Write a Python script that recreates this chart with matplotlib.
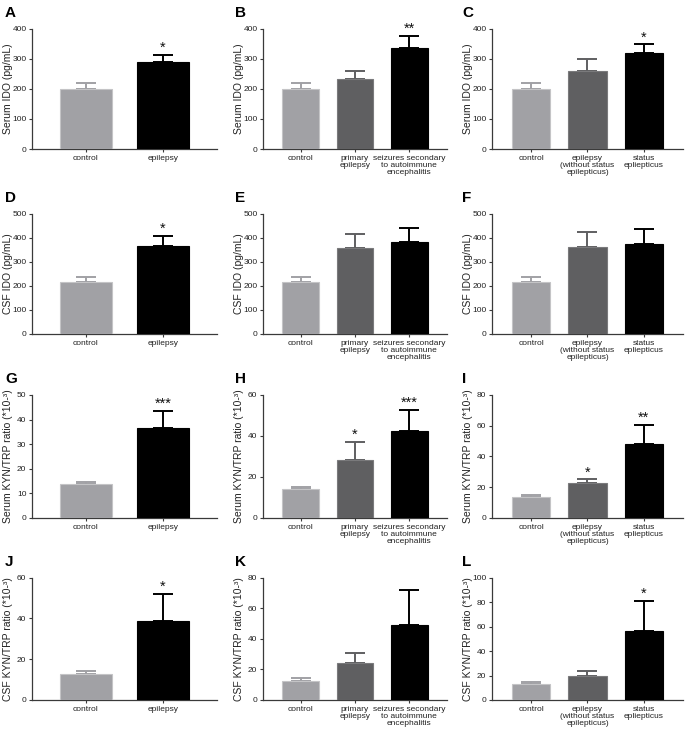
import matplotlib
matplotlib.use("Agg")
import matplotlib.pyplot as plt

plt.rcParams['font.family'] = ['Liberation Sans', 'DejaVu Sans']

# ---- data ----
cats2 = ["control", "epilepsy"]
cats_b = ["control", "primary\nepilepsy", "seizures secondary\nto autoimmune\nencephalitis"]
cats_c = ["control", "epilepsy\n(without status\nepilepticus)", "status\nepliepticus"]

ser_ido_a = [200, 288];      ser_ido_a_err = [19, 26]
ser_ido_b = [200, 233, 336]; ser_ido_b_err = [19, 25, 40]
ser_ido_c = [200, 259, 318]; ser_ido_c_err = [19, 39, 30]

csf_ido_d = [215, 367];      csf_ido_d_err = [21, 42]
csf_ido_e = [215, 356, 381]; csf_ido_e_err = [21, 60, 58]
csf_ido_f = [215, 363, 375]; csf_ido_f_err = [21, 61, 60]

ser_kt_g = [13.7, 36.4];       ser_kt_g_err = [1.0, 7.0]
ser_kt_h = [13.9, 28.2, 42.4]; ser_kt_h_err = [1.0, 9.0, 10.4]
ser_kt_i = [13.8, 22.9, 48.2]; ser_kt_i_err = [0.9, 2.1, 12.3]

csf_kt_j = [12.6, 38.6];       csf_kt_j_err = [1.8, 13.5]
csf_kt_k = [12.5, 24.1, 48.8]; csf_kt_k_err = [1.8, 6.6, 23.3]
csf_kt_l = [13.1, 19.6, 56.2]; csf_kt_l_err = [1.9, 4.4, 24.8]

stars_a = ["", "*"];  stars_b = ["", "", "**"];   stars_c = ["", "", "*"]
stars_d = ["", "*"];  stars_e = ["", "", ""];     stars_f = ["", "", ""]
stars_g = ["", "***"]; stars_h = ["", "*", "***"]; stars_i = ["", "*", "**"]
stars_j = ["", "*"];  stars_k = ["", "", ""];     stars_l = ["", "", "*"]

ylab_sido = "Serum IDO (pg/mL)"
ylab_cido = "CSF IDO (pg/mL)"
ylab_skt = "Serum KYN/TRP ratio (*10-\u00b3)"
ylab_ckt = "CSF KYN/TRP ratio (*10-\u00b3)"

panels = [
    ("A", cats2, ser_ido_a, ser_ido_a_err, stars_a, ylab_sido, 400, 100),
    ("B", cats_b, ser_ido_b, ser_ido_b_err, stars_b, ylab_sido, 400, 100),
    ("C", cats_c, ser_ido_c, ser_ido_c_err, stars_c, ylab_sido, 400, 100),
    ("D", cats2, csf_ido_d, csf_ido_d_err, stars_d, ylab_cido, 500, 100),
    ("E", cats_b, csf_ido_e, csf_ido_e_err, stars_e, ylab_cido, 500, 100),
    ("F", cats_c, csf_ido_f, csf_ido_f_err, stars_f, ylab_cido, 500, 100),
    ("G", cats2, ser_kt_g, ser_kt_g_err, stars_g, ylab_skt, 50, 10),
    ("H", cats_b, ser_kt_h, ser_kt_h_err, stars_h, ylab_skt, 60, 20),
    ("I", cats_c, ser_kt_i, ser_kt_i_err, stars_i, ylab_skt, 80, 20),
    ("J", cats2, csf_kt_j, csf_kt_j_err, stars_j, ylab_ckt, 60, 20),
    ("K", cats_b, csf_kt_k, csf_kt_k_err, stars_k, ylab_ckt, 80, 20),
    ("L", cats_c, csf_kt_l, csf_kt_l_err, stars_l, ylab_ckt, 100, 20),
]

W, H = 685, 737
fig = plt.figure(figsize=(W / 100, H / 100), dpi=100)

col_x = [(32, 217), (263, 447), (492, 683)]
row_y = [(28.7, 149), (213.7, 334), (395, 517.7), (577.7, 700)]
letter_x = [5, 235, 462]

fill2 = ["#a1a1a5", "#000000"]
fill3 = ["#a1a1a5", "#5f5f61", "#000000"]
edge2 = ["#c4c4c6", "#000000"]
edge3 = ["#c4c4c6", "#7a7a7c", "#000000"]
spine_col = "#3a3a3a"

for idx, (letter, cats, vals, errs, stars, ylab, ymax, ystep) in enumerate(panels):
    r, c = divmod(idx, 3)
    x0, x1 = col_x[c]
    yt, yb = row_y[r]
    ax = fig.add_axes([x0 / W, 1 - yb / H, (x1 - x0) / W, (yb - yt) / H])
    n = len(cats)
    fills = fill2 if n == 2 else fill3
    edges = edge2 if n == 2 else edge3
    xs = list(range(n))
    for i in xs:
        ax.errorbar(i, vals[i], yerr=[[0], [errs[i]]], fmt="none",
                    ecolor=fills[i], elinewidth=1.4, capsize=7, capthick=1.4,
                    zorder=2, clip_on=False)
    ax.bar(xs, vals, width=0.68, color=fills, edgecolor=edges, linewidth=0.8, zorder=3)
    for i in xs:
        if stars[i]:
            ax.annotate(stars[i], (i, vals[i] + errs[i]), xytext=(0, 0),
                        textcoords="offset points", ha="center", va="bottom",
                        fontsize=10.5, annotation_clip=False, color="#111111")
    ax.set_xlim(-0.7, n - 1 + 0.7)
    ax.set_ylim(0, ymax)
    ax.set_yticks(list(range(0, ymax + 1, ystep)))
    ax.set_xticks(xs)
    ax.set_xticklabels(cats, fontsize=6, linespacing=1.0, color="#222222")
    ax.tick_params(axis="y", labelsize=6, length=2.5, width=0.8, pad=1.5,
                   colors=spine_col, labelcolor="#222222")
    ax.tick_params(axis="x", length=2.5, width=0.8, pad=2,
                   colors=spine_col, labelcolor="#222222")
    for s in ["top", "right"]:
        ax.spines[s].set_visible(False)
    for s in ["left", "bottom"]:
        ax.spines[s].set_color(spine_col)
        ax.spines[s].set_linewidth(0.9)
    ax.set_ylabel(ylab, fontsize=7.5, color="#222222")
    ax.yaxis.set_label_coords(-19.0 / (x1 - x0), 0.5)
    fig.text(letter_x[c] / W, 1 - (yt - 16) / H, letter, fontsize=11,
             fontweight="bold", ha="left", va="center")

fig.savefig("out.png", dpi=100)
